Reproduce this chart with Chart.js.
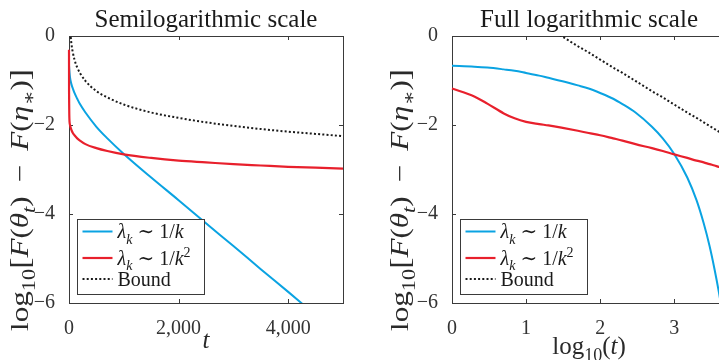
<!DOCTYPE html>
<html>
<head>
<meta charset="utf-8">
<script src="https://cdn.jsdelivr.net/npm/chart.js@4"></script>
<style>
  html, body { margin: 0; padding: 0; background: #fff; overflow: hidden; width: 719px; height: 360px; }
  #left { position: absolute; left: 0; top: 0; }
  #right { position: absolute; left: 360px; top: 0; }
</style>
</head>
<body>
<canvas id="left" width="360" height="360"></canvas>
<canvas id="right" width="380" height="360"></canvas>
<script>
// iteration counts t (shared by both panels)
const steps = [1, 2, 3, 5, 7, 10, 15, 20, 30, 50, 70, 100, 150, 200, 300, 500, 700,
               1000, 1500, 2000, 2500, 3000, 3500, 4000, 4500, 5000];
// log10[F(theta_t) - F(eta*)]
const slowDecay = [-0.67, -0.69, -0.71, -0.75, -0.78, -0.83, -0.89, -0.94, -1.01, -1.11, -1.18, -1.28, -1.41, -1.53, -1.72, -2.04, -2.30,
                   -2.65, -3.18, -3.69, -4.21, -4.72, -5.24, -5.75, -6.27, -6.78];
const fastDecay = [-1.18, -1.36, -1.52, -1.74, -1.85, -1.93, -1.98, -2.01, -2.06, -2.13, -2.18, -2.23, -2.30, -2.35, -2.43, -2.52, -2.585,
                   -2.66, -2.74, -2.80, -2.84, -2.88, -2.91, -2.94, -2.96, -2.98];
const bound = [1.49, 1.19, 1.01, 0.78, 0.64, 0.48, 0.30, 0.18, 0.00, -0.23, -0.37, -0.53, -0.71, -0.83, -1.01, -1.24, -1.38,
               -1.54, -1.72, -1.84, -1.94, -2.02, -2.09, -2.15, -2.20, -2.25];
// value at t = 0 (only visible on the linear panel)
const slowStart = -0.67;
const fastStart = -0.31;

const yTicks = [0, -2, -4, -6];
const leftXTicks = [0, 2000, 4000];
const rightXTicks = [1, 10, 100, 1000];

const blue = '#0aa3e2';
const red = '#e8202c';
const ink = '#3a3a3a';
const serif = '"Liberation Serif", "DejaVu Serif", serif';

const legendLabels = [
  [['λ', 'i'], ['k', 'isub'], [' ∼ 1/', 'r'], ['k', 'i']],
  [['λ', 'i'], ['k', 'isub'], [' ∼ 1/', 'r'], ['k', 'i'], ['2', 'sup']],
  [['Bound', 'r']]
];
const yTitle = [['log', 'r'], ['10', 'sub'], ['[', 'big'], ['F', 'i'], ['(', 'r'], ['θ', 'i'], ['t', 'isub'], [')', 'r'],
                [' \u2009−\u2009 ', 'r'], ['F', 'i'], ['(', 'r'], ['η', 'i'], ['∗', 'sub'], [')', 'r'], [']', 'big']];

const fontFor = (kind, size) => {
  const small = /sub|sup/.test(kind);
  const ital = kind[0] === 'i';
  const s = small ? Math.round(size * 0.7) : (kind === 'big' ? Math.round(size * 1.08) : size);
  return (ital ? 'italic ' : '') + s + 'px ' + serif;
};

const drawRich = (ctx, parts, x, y, size, align, target) => {
  const widths = parts.map(([s, k]) => { ctx.font = fontFor(k, size); return ctx.measureText(s).width; });
  const total = widths.reduce((a, b) => a + b, 0);
  const sx = target ? target / total : 1;
  ctx.save();
  ctx.translate(x, y);
  ctx.scale(sx, 1);
  let cx = align === 'center' ? -total / 2 : 0;
  ctx.textAlign = 'left';
  ctx.textBaseline = 'alphabetic';
  parts.forEach(([s, k], i) => {
    ctx.font = fontFor(k, size);
    const dy = k.includes('sub') ? size * 0.28 : (k === 'sup' ? -size * 0.4 : (k === 'big' ? size * 0.03 : 0));
    ctx.fillText(s, cx, dy);
    cx += widths[i];
  });
  ctx.restore();
};

const makeSeries = (values, start) => {
  const pts = steps.map((t, i) => ({ x: t, y: values[i] }));
  if (start !== undefined) pts.unshift({ x: 0, y: start });
  return pts;
};

const lineClip = { left: 2, top: 0, right: 0, bottom: 0 };

const makeDatasets = (withStart) => [
  { label: 'λk ∼ 1/k', data: makeSeries(slowDecay, withStart ? slowStart : undefined), borderColor: blue, borderWidth: 2, order: 2, clip: lineClip },
  { label: 'λk ∼ 1/k²', data: makeSeries(fastDecay, withStart ? fastStart : undefined), borderColor: red, borderWidth: 2.2, order: 1, clip: lineClip },
  { label: 'Bound', data: makeSeries(bound), borderColor: '#1a1a1a', borderWidth: 2, borderDash: [2, 2.2], order: 0, clip: lineClip }
];

// MATLAB-like box and inward ticks, drawn under the lines
const axesBox = {
  id: 'axesBox',
  beforeDatasetsDraw(chart) {
    const { ctx, chartArea: a } = chart;
    const xs = chart.scales.x, ys = chart.scales.y;
    ctx.save();
    ctx.strokeStyle = ink;
    ctx.lineWidth = 1;
    ctx.beginPath();
    xs.ticks.forEach(t => {
      const px = Math.round(xs.getPixelForValue(t.value)) + 0.5;
      ctx.moveTo(px, a.bottom); ctx.lineTo(px, a.bottom - 4);
      ctx.moveTo(px, a.top); ctx.lineTo(px, a.top + 4);
    });
    ys.ticks.forEach(t => {
      const py = Math.round(ys.getPixelForValue(t.value)) + 0.5;
      ctx.moveTo(a.left, py); ctx.lineTo(a.left + 4, py);
      ctx.moveTo(a.right, py); ctx.lineTo(a.right - 4, py);
    });
    ctx.stroke();
    ctx.strokeRect(Math.round(a.left) + 0.5, Math.round(a.top) + 0.5, Math.round(a.right - a.left), Math.round(a.bottom - a.top));
    ctx.restore();
  }
};

// titles and legend with sub/superscripts
const decorations = {
  id: 'decorations',
  afterDatasetsDraw(chart, args, opts) {
    const { ctx, chartArea: a } = chart;
    ctx.save();

    // legend
    const lx = Math.round(a.left + 8) + 0.5, lh = 75, lw = 127;
    const ly = Math.round(a.bottom - 9.5 - lh) + 0.5;
    ctx.fillStyle = '#fff';
    ctx.fillRect(lx, ly, lw, lh);
    ctx.strokeStyle = '#3a3a3a';
    ctx.lineWidth = 1;
    ctx.strokeRect(lx, ly, lw, lh);
    const rows = [12, 38.5, 59.5];
    chart.data.datasets.forEach((ds, i) => {
      const ry = ly + rows[i];
      ctx.strokeStyle = ds.borderColor;
      ctx.lineWidth = ds.borderWidth;
      ctx.setLineDash(ds.borderDash || []);
      ctx.beginPath();
      ctx.moveTo(lx + 5, ry); ctx.lineTo(lx + 35, ry);
      ctx.stroke();
      ctx.setLineDash([]);
      ctx.fillStyle = '#1a1a1a';
      drawRich(ctx, legendLabels[i], lx + 40, ry + 6.5, 20, 'left');
    });

    // title
    ctx.fillStyle = '#1a1a1a';
    ctx.font = '25px ' + serif;
    ctx.textAlign = 'center';
    ctx.textBaseline = 'alphabetic';
    ctx.fillText(opts.title, (a.left + a.right) / 2, 27);

    // x title
    ctx.fillStyle = '#2a2a2a';
    drawRich(ctx, opts.xTitle, (a.left + a.right) / 2, opts.xTitleY, 25, 'center');

    // y title
    ctx.save();
    ctx.translate(opts.yTitleX, 200);
    ctx.rotate(-Math.PI / 2);
    drawRich(ctx, yTitle, 0, 0, 25, 'center', 262);
    ctx.restore();
    ctx.restore();
  }
};

const minus = v => (v < 0 ? '−' + Math.abs(v) : String(v));

const buildOptions = (xScale, padRight, leftWidth, deco) => ({
  responsive: false,
  animation: false,
  layout: { padding: { top: 36, right: padRight, left: 0, bottom: 0 } },
  elements: { point: { radius: 0 }, line: { cubicInterpolationMode: 'monotone', borderCapStyle: 'butt' } },
  plugins: { legend: { display: false }, tooltip: { enabled: false }, decorations: deco },
  scales: {
    x: Object.assign({
      grid: { display: false },
      border: { display: false },
      afterFit: s => { s.height = 57; },
    }, xScale),
    y: {
      type: 'linear',
      min: -6, max: 0,
      afterBuildTicks: s => { s.ticks = yTicks.map(v => ({ value: v })); },
      ticks: { callback: minus, padding: 6, color: '#333', font: { family: serif, size: 20 } },
      grid: { display: false },
      border: { display: false },
      afterFit: s => { s.width = leftWidth; }
    }
  }
});

new Chart(document.getElementById('left'), {
  type: 'line',
  data: { datasets: makeDatasets(true) },
  options: buildOptions({
    type: 'linear', min: 0, max: 5000,
    afterBuildTicks: s => { s.ticks = leftXTicks.map(v => ({ value: v })); },
    ticks: { maxRotation: 0, padding: 6, color: '#333', font: { family: serif, size: 20 },
             callback: v => v.toLocaleString('en-US') }
  }, 17, 69, { title: 'Semilogarithmic scale', xTitle: [['t', 'i']], xTitleY: 348, yTitleX: 28 }),
  plugins: [axesBox, decorations]
});

new Chart(document.getElementById('right'), {
  type: 'line',
  data: { datasets: makeDatasets(false) },
  options: buildOptions({
    type: 'logarithmic', min: 1, max: 5000,
    afterBuildTicks: s => { s.ticks = rightXTicks.map(v => ({ value: v })); },
    ticks: { maxRotation: 0, padding: 6, color: '#333', font: { family: serif, size: 20 },
             callback: v => String(Math.round(Math.log10(v))) }
  }, 14, 92, { title: 'Full logarithmic scale', xTitle: [['log', 'r'], ['10', 'sub'], ['(', 'r'], ['t', 'i'], [')', 'r']], xTitleY: 354, yTitleX: 48 }),
  plugins: [axesBox, decorations]
});
</script>
</body>
</html>
